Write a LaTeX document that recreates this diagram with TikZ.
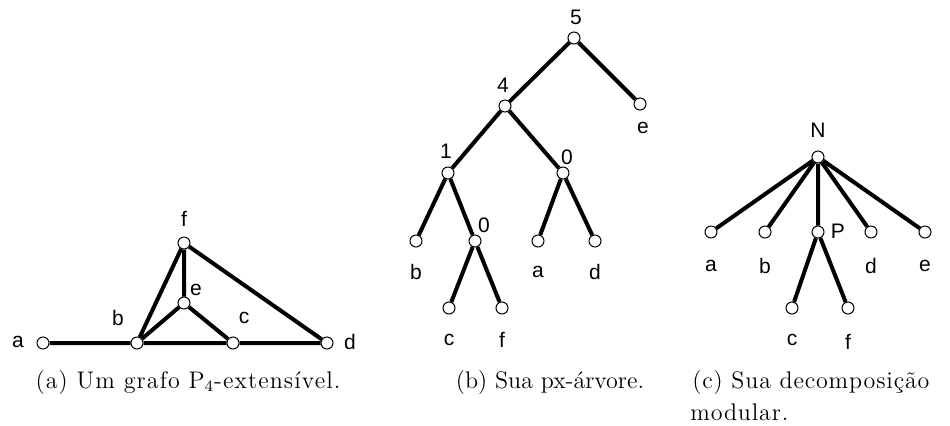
\documentclass[tikz,border=0pt]{standalone}
\usepackage{fontspec}
\setmainfont{Latin Modern Roman}
\newfontfamily\lblfont{Liberation Sans}
\begin{document}
\begin{tikzpicture}[x=0.5pt,y=-0.5pt,
  vertex/.style={circle,draw,fill=white,inner sep=0pt,minimum size=6pt,line width=0.5pt},
  edge/.style={line width=2pt},
  lbl/.style={font=\lblfont\fontsize{10.5}{12}\selectfont,inner sep=0pt},
  capt/.style={font=\fontsize{12}{16}\selectfont,inner sep=0pt,anchor=base}]
\useasboundingbox (0,0) rectangle (950,425);

% (a) the P4-extensible graph
\node[vertex] (ga) at (43,343) {};
\node[vertex] (gb) at (137,343) {};
\node[vertex] (gc) at (233,343) {};
\node[vertex] (gd) at (327,343) {};
\node[vertex] (ge) at (184,303) {};
\node[vertex] (gf) at (184,243) {};
\draw[edge] (ga) -- (gb) (gb) -- (gc) (gc) -- (gd)
  (gb) -- (gf) (gf) -- (ge) (gb) -- (ge) (ge) -- (gc) (gf) -- (gd);
\node[lbl] (la) at (18,342) {a};
\node[lbl] (lb) at (118,318) {b};
\node[lbl] (lc) at (244,318) {c};
\node[lbl] (ld) at (350,342) {d};
\node[lbl] (le) at (196,290) {e};
\node[lbl] (lf) at (184,219) {f};
\node[capt] (capa) at (188,388) {\addfontfeature{LetterSpace=4.5}(a) Um grafo P$_4$-extensível.};

% (b) the px-tree
\node[vertex] (t5) at (574,38) {};
\node[vertex] (t4) at (505,106) {};
\node[vertex] (te) at (640,104) {};
\node[vertex] (t1) at (448,173) {};
\node[vertex] (t0r) at (563,173) {};
\node[vertex] (tb) at (416,241) {};
\node[vertex] (t0i) at (475,241) {};
\node[vertex] (ta) at (538,241) {};
\node[vertex] (td) at (595,241) {};
\node[vertex] (tc) at (449,308) {};
\node[vertex] (tf) at (502,308) {};
\draw[edge] (t5) -- (t4) (t5) -- (te) (t4) -- (t1) (t4) -- (t0r)
  (t1) -- (tb) (t1) -- (t0i) (t0r) -- (ta) (t0r) -- (td)
  (t0i) -- (tc) (t0i) -- (tf);
\node[lbl] (l5) at (576,17) {5};
\node[lbl] (l4) at (503,85) {4};
\node[lbl] (l1) at (446,151) {1};
\node[lbl] (l0r) at (567,157) {0};
\node[lbl] (l0i) at (484,225) {0};
\node[lbl] (lte) at (643,128) {e};
\node[lbl] (ltb) at (416,272) {b};
\node[lbl] (lta) at (538,272) {a};
\node[lbl] (ltd) at (595,272) {d};
\node[lbl] (ltc) at (449,340) {c};
\node[lbl] (ltf) at (502,340) {f};
\node[capt] (capb) at (550,388) {(b) Sua px-árvore.};

% (c) the modular decomposition
\node[vertex] (mN) at (818,157) {};
\node[vertex] (ma) at (711,232) {};
\node[vertex] (mb) at (765,232) {};
\node[vertex] (mP) at (818,232) {};
\node[vertex] (md) at (871,232) {};
\node[vertex] (me) at (925,232) {};
\node[vertex] (mc) at (792,308) {};
\node[vertex] (mf) at (848,308) {};
\draw[edge] (mN) -- (ma) (mN) -- (mb) (mN) -- (mP) (mN) -- (md) (mN) -- (me)
  (mP) -- (mc) (mP) -- (mf);
\node[lbl] (lN) at (818,130) {N};
\node[lbl] (lP) at (838,231) {P};
\node[lbl] (lma) at (711,266) {a};
\node[lbl] (lmb) at (765,266) {b};
\node[lbl] (lmd) at (871,266) {d};
\node[lbl] (lme) at (925,266) {e};
\node[lbl] (lmc) at (792,340) {c};
\node[lbl] (lmf) at (848,342) {f};
\node[capt,anchor=base west] (capc1) at (692,388) {\addfontfeature{LetterSpace=3.5}(c) Sua decomposição};
\node[capt,anchor=base west] (capc2) at (690,420) {\addfontfeature{LetterSpace=3.5}modular.};
\end{tikzpicture}
\end{document}
